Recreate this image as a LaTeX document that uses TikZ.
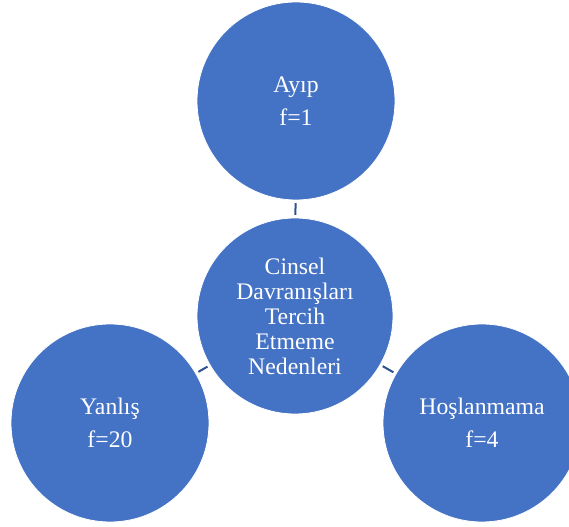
\documentclass[tikz,border=0pt]{standalone}
\usepackage{fontspec}
\setmainfont{Liberation Serif}
\usepackage{tikz}
\usetikzlibrary{positioning}
\definecolor{bubblefill}{HTML}{4472C4}
\definecolor{linkline}{HTML}{2F528F}
\tikzset{
  bubble/.style={circle, fill=bubblefill, draw=white, line width=0.6pt,
                 minimum size=148.5pt, inner sep=0pt, text=white,
                 font=\fontsize{17.8}{24.75}\selectfont, align=center},
  hub/.style={bubble, minimum size=147pt, font=\fontsize{17.8}{18.75}\selectfont},
  link/.style={draw=linkline, line width=1.5pt, shorten <=2pt, shorten >=2pt}
}

\begin{document}
\begin{tikzpicture}[x=0.75pt, y=-0.75pt]
  \clip (0,0) rectangle (569,527);
  \useasboundingbox (0,0) rectangle (569,527);
  \node[hub] (neden) at (295,316) {Cinsel\\Davranışları\\Tercih\\Etmeme\\Nedenleri};
  \node[bubble] (ayip) at (296,101) {Ayıp\\f=1};
  \node[bubble] (yanlis) at (110,423) {Yanlış\\f=20};
  \node[bubble] (hoslan) at (482,423) {Hoşlanmama\\f=4};

  \draw[link] (ayip) -- (neden);
  \draw[link] (yanlis) -- (neden);
  \draw[link] (hoslan) -- (neden);
\end{tikzpicture}
\end{document}
